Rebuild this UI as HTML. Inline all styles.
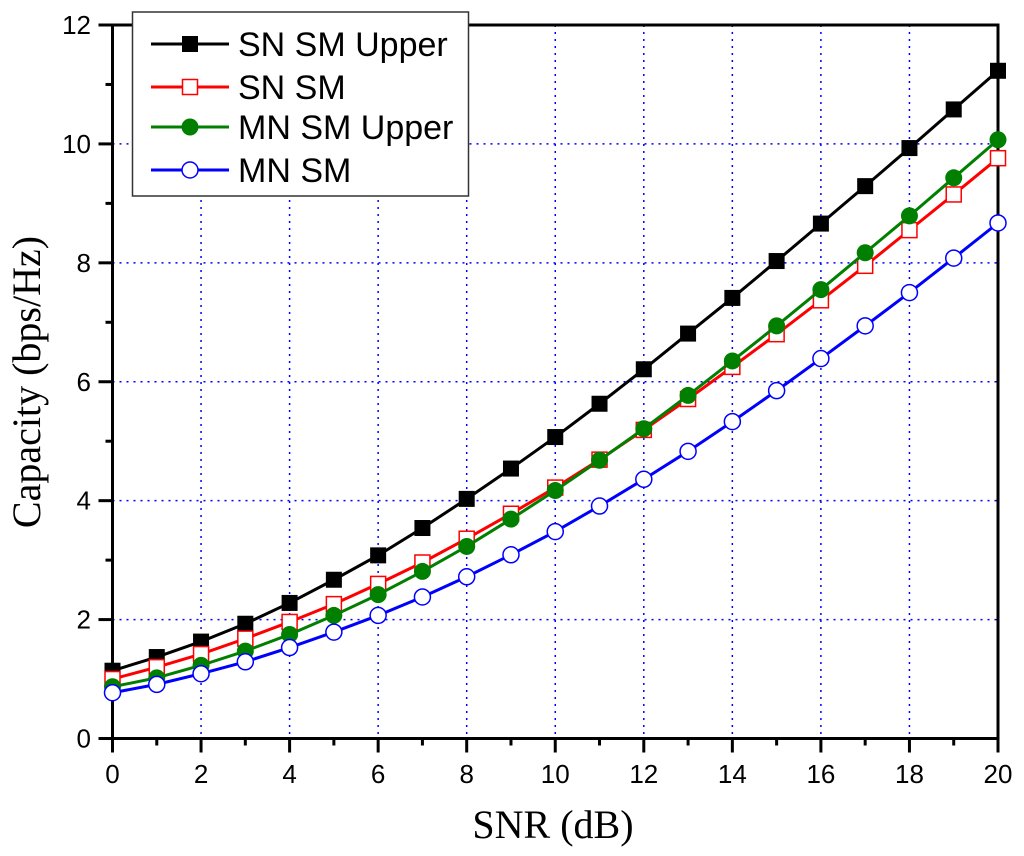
<!DOCTYPE html>
<html><head><meta charset="utf-8"><style>body{margin:0;background:#fff}svg{display:block}</style></head>
<body>
<svg id="chart" width="1024" height="856" xmlns="http://www.w3.org/2000/svg"></svg>
<script>
const snr=[0,1,2,3,4,5,6,7,8,9,10,11,12,13,14,15,16,17,18,19,20];
const snSmUpper=[1.14,1.37,1.63,1.93,2.28,2.67,3.08,3.54,4.03,4.54,5.07,5.63,6.21,6.81,7.41,8.03,8.66,9.29,9.93,10.58,11.23];
const snSm=[1.0,1.2,1.42,1.68,1.96,2.26,2.6,2.96,3.36,3.78,4.22,4.69,5.19,5.71,6.25,6.8,7.37,7.95,8.55,9.15,9.76];
const mnSmUpper=[0.87,1.02,1.23,1.47,1.75,2.07,2.42,2.81,3.23,3.69,4.17,4.68,5.21,5.77,6.35,6.94,7.55,8.17,8.79,9.43,10.07];
const mnSm=[0.77,0.91,1.09,1.29,1.53,1.79,2.07,2.38,2.72,3.09,3.48,3.91,4.36,4.83,5.33,5.85,6.39,6.94,7.5,8.08,8.67];
const xTicks=[0,2,4,6,8,10,12,14,16,18,20];
const yTicks=[0,2,4,6,8,10,12];
const seriesNames=["SN SM Upper","SN SM","MN SM Upper","MN SM"];

const svg=document.getElementById('chart');const NS="http://www.w3.org/2000/svg";
const L=112.5,R=998,T=25,B=738.5;
const xs=v=>L+(v-0)/(20-0)*(R-L);
const ys=v=>B-(v-0)/(12-0)*(B-T);
function mk(t,a,p){const e=document.createElementNS(NS,t);for(const k in a)e.setAttribute(k,a[k]);(p||svg).appendChild(e);return e;}

xTicks.forEach(v=>{if(v===0||v===20)return;
const g=mk('line',{x1:xs(v),x2:xs(v),y1:T,y2:B,stroke:'#0000ff','stroke-width':1.5,'stroke-dasharray':'2,5'});

});
yTicks.forEach(v=>{if(v===0||v===12)return;
const g=mk('line',{x1:L,x2:R,y1:ys(v),y2:ys(v),stroke:'#0000ff','stroke-width':1.5,'stroke-dasharray':'2,5'});

});

const fr=mk('rect',{x:L,y:T,width:R-L,height:B-T,fill:'none',stroke:'#000','stroke-width':3});



for(let v=0;v<=20;v++){const maj=v%2===0;
mk('line',{x1:xs(v),x2:xs(v),y1:B,y2:B+(maj?14:7),stroke:'#000','stroke-width':3});
if(maj){const t=mk('text',{x:xs(v),y:783,'text-anchor':'middle','font-size':26,'font-family':'Liberation Sans, sans-serif'});t.textContent=v;

}}
for(let v=0;v<=12;v++){const maj=v%2===0;
mk('line',{x1:L,x2:L-(maj?14:7),y1:ys(v),y2:ys(v),stroke:'#000','stroke-width':3});
if(maj){const t=mk('text',{x:91,y:ys(v)+9,'text-anchor':'end','font-size':26,'font-family':'Liberation Sans, sans-serif'});t.textContent=v;

}}

const xt=mk('text',{x:553,y:838,'text-anchor':'middle','font-size':40,'font-family':'Liberation Serif, serif'});xt.textContent='SNR (dB)';


const yt=mk('text',{x:0,y:0,'text-anchor':'middle','font-size':40,'font-family':'Liberation Serif, serif',transform:'translate(40,382) rotate(-90)'});yt.textContent='Capacity (bps/Hz)';



function marker(kind,x,y,color,p){
if(kind==='sq-fill')return mk('rect',{x:x-8,y:y-8,width:16,height:16,fill:color},p);
if(kind==='sq-open')return mk('rect',{x:x-7.5,y:y-7.5,width:15,height:15,fill:'#fff',stroke:color,'stroke-width':1.5},p);
if(kind==='c-fill')return mk('circle',{cx:x,cy:y,r:8.5,fill:color},p);
return mk('circle',{cx:x,cy:y,r:8,fill:'#fff',stroke:color,'stroke-width':1.5},p);}

const series=[[snSmUpper,'#000','sq-fill'],[snSm,'#ff0000','sq-open'],[mnSmUpper,'#007f00','c-fill'],[mnSm,'#0000ff','c-open']];
series.forEach((s,i)=>{const g=mk('g',{});


mk('polyline',{points:snr.map((x,j)=>xs(x)+','+ys(s[0][j])).join(' '),fill:'none',stroke:s[1],'stroke-width':3},g);
snr.forEach((x,j)=>{const m=marker(s[2],xs(x),ys(s[0][j]),s[1],g);

});});

const lg=mk('g',{});


mk('rect',{x:132.5,y:12,width:336,height:184,fill:'#fff',stroke:'#333','stroke-width':1.5},lg);
const rowsY=[44,87,127,170];
series.forEach((s,i)=>{const y=rowsY[i];const e=mk('g',{},lg);


mk('line',{x1:151,x2:229,y1:y,y2:y,stroke:s[1],'stroke-width':3},e);
marker(s[2],190,y,s[1],e);
const t=mk('text',{x:238,y:y+12,'font-size':34,'font-family':'Liberation Sans, sans-serif'},e);t.textContent=seriesNames[i];});
</script>
</body></html>
